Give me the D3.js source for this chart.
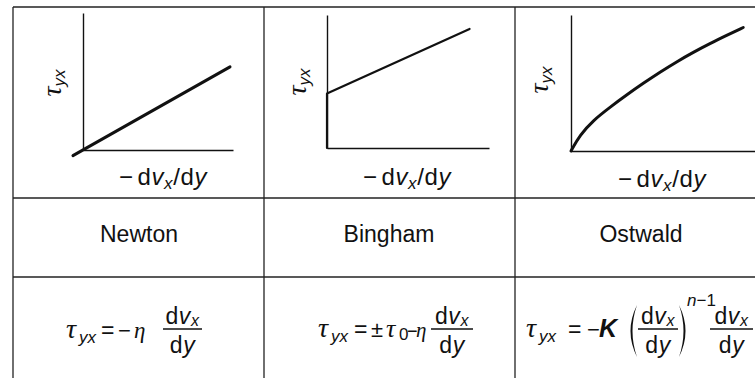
<!DOCTYPE html>
<html><head><meta charset="utf-8">
<script src="https://cdn.jsdelivr.net/npm/d3@7"></script>
<style>
html,body{margin:0;padding:0;background:#fff;}
svg{display:block;}
</style></head><body>
<svg id="chart" width="755" height="378"></svg>
<script>
// Flow models compared in the table
const models = ["Newton", "Bingham", "Ostwald"];

// Newtonian fluid: straight line through the origin
const newtonX = [-0.067, 0.98];
const newtonY = [-0.041, 0.607];

// Bingham plastic: yield stress at zero shear rate, then linear
const binghamX = [0, 0, 0.88];
const binghamY = [0, 0.41, 0.895];

// Ostwald (power-law) fluid: shear-thinning curve
const ostwaldX = [0, 0.049, 0.121, 0.212, 0.302, 0.393, 0.484, 0.574, 0.665, 0.755, 0.846, 0.936];
const ostwaldY = [0, 0.118, 0.226, 0.322, 0.412, 0.498, 0.58, 0.656, 0.726, 0.79, 0.85, 0.908];

// Normalised axis domain shared by the three sketches
const axisDomain = [0, 1];

const SANS = "'Liberation Sans', Arial, Helvetica, sans-serif";
const SERIF = "'Liberation Serif', 'Times New Roman', serif";
const INK = "#111";

const svg = d3.select("#chart");
const g = svg.append("g");

// ---- table rules ----
const cols = [13, 264, 515];
const rows = [7, 198, 277];
g.selectAll("line.col").data(cols).join("line")
  .attr("x1", d => d).attr("x2", d => d).attr("y1", 7).attr("y2", 378)
  .attr("stroke", "#222").attr("stroke-width", 1.3);
g.selectAll("line.row").data(rows).join("line")
  .attr("x1", 13).attr("x2", 755).attr("y1", d => d).attr("y2", d => d)
  .attr("stroke", "#222").attr("stroke-width", 1.3);

// ---- text helpers ----
function txt(parent, x, y, parts, opts = {}) {
  const t = parent.append("text").attr("x", x).attr("y", y)
    .attr("font-family", SANS).attr("fill", INK);
  if (opts.anchor) t.attr("text-anchor", opts.anchor);
  if (opts.transform) t.attr("transform", opts.transform);
  if (opts.spacing) t.attr("letter-spacing", opts.spacing);
  parts.forEach(p => {
    const s = t.append("tspan").text(p.t).attr("font-size", p.size || 22);
    if (p.it) s.attr("font-style", "italic");
    if (p.serif) s.attr("font-family", SERIF);
    if (p.bold) s.attr("font-weight", "bold");
    if (p.dy) s.attr("dy", p.dy);
    if (p.dx) s.attr("dx", p.dx);
  });
  return t;
}

function frac(parent, x0, x1, barY) {
  const cx = (x0 + x1) / 2;
  parent.append("line").attr("x1", x0).attr("x2", x1).attr("y1", barY).attr("y2", barY)
    .attr("stroke", INK).attr("stroke-width", 1.3);
  txt(parent, cx, barY - 5, [{t: "d", size: 23}, {t: "v", it: true, size: 23}, {t: "x", it: true, size: 16, dy: 2}],
    {anchor: "middle", spacing: 0.6});
  txt(parent, cx, barY + 24, [{t: "d", size: 23}, {t: "y", it: true, size: 23}], {anchor: "middle", spacing: 0.6});
}

// ---- sketches ----
const panels = [
  {xr: [83, 233], yr: [150, 13], xs: newtonX, ys: newtonY, w: 3, curve: d3.curveLinear, yLab: [61, 83], xLab: [163, 185]},
  {xr: [327, 489], yr: [148, 15], xs: binghamX, ys: binghamY, w: 2.2, curve: d3.curveLinear, yLab: [306, 82], xLab: [407, 185]},
  {xr: [571, 755], yr: [151, 15], xs: ostwaldX, ys: ostwaldY, w: 3, curve: d3.curveBasis, yLab: [548, 80], xLab: [662, 187]}
];

panels.forEach(p => {
  const x = d3.scaleLinear().domain(axisDomain).range(p.xr);
  const y = d3.scaleLinear().domain(axisDomain).range(p.yr);
  const pg = g.append("g");

  pg.append("g").attr("transform", `translate(0,${p.yr[0]})`)
    .call(d3.axisBottom(x).ticks(0).tickSizeOuter(0))
    .call(a => a.select(".domain").attr("stroke", INK).attr("stroke-width", 1.4));
  pg.append("g").attr("transform", `translate(${p.xr[0]},0)`)
    .call(d3.axisLeft(y).ticks(0).tickSizeOuter(0))
    .call(a => a.select(".domain").attr("stroke", INK).attr("stroke-width", 1.4));

  const pts = p.xs.map((v, i) => [v, p.ys[i]]);
  pg.append("path").datum(pts)
    .attr("d", d3.line().x(d => x(d[0])).y(d => y(d[1])).curve(p.curve))
    .attr("fill", "none").attr("stroke", INK).attr("stroke-width", p.w)
    .attr("stroke-linecap", "round").attr("stroke-linejoin", "round");

  txt(pg, 0, 0, [{t: "τ", serif: true, it: true, size: 28}, {t: "yx", it: true, size: 17, dy: 4}],
    {anchor: "middle", transform: `translate(${p.yLab[0]},${p.yLab[1]}) rotate(-90)`});

  txt(pg, p.xLab[0], p.xLab[1], [
    {t: "−", size: 24}, {t: "d", dx: 4, size: 24}, {t: "v", it: true, size: 24}, {t: "x", it: true, size: 17, dy: 4},
    {t: "/", dy: -4, size: 24}, {t: "d", size: 24}, {t: "y", it: true, size: 24}
  ], {anchor: "middle", spacing: 0.6});
});

// ---- model names ----
const centers = [139, 389, 641];
models.forEach((m, i) => txt(g, centers[i], 242, [{t: m, size: 23}], {anchor: "middle"}));

// ---- constitutive equations ----
function tauYX(x, base) {
  txt(g, x, base, [{t: "τ", serif: true, it: true, size: 28}]);
  txt(g, x + 13, base + 5, [{t: "yx", it: true, size: 17}]);
}

// Newton
tauYX(66, 338);
txt(g, 101, 338, [{t: "=", size: 23}]);
txt(g, 118, 338, [{t: "−", size: 22}]);
txt(g, 134, 338, [{t: "η", serif: true, it: true, size: 23}]);
frac(g, 163, 202, 329);

// Bingham
tauYX(318, 337);
txt(g, 354, 337, [{t: "=", size: 23}]);
txt(g, 371, 337, [{t: "±", size: 22}]);
txt(g, 386, 337, [{t: "τ", serif: true, it: true, size: 26}]);
txt(g, 399, 340, [{t: "0", size: 17}]);
txt(g, 407, 337, [{t: "−", size: 18}]);
txt(g, 416, 337, [{t: "η", serif: true, it: true, size: 21}]);
frac(g, 431, 473, 329);

// Ostwald
tauYX(526, 337);
txt(g, 568, 337, [{t: "=", size: 23}]);
txt(g, 587, 337, [{t: "−", size: 22}]);
txt(g, 599, 337, [{t: "K", it: true, bold: true, size: 25}]);
g.append("path").attr("d", "M637,305 Q624,331 637,357 Q628,331 637,305 Z").attr("fill", INK);
frac(g, 638, 678, 329);
g.append("path").attr("d", "M679,305 Q692,331 679,357 Q688,331 679,305 Z").attr("fill", INK);
txt(g, 687, 306, [{t: "n", it: true, size: 17}, {t: "−1", size: 17}]);
frac(g, 710, 753, 329);
</script>
</body></html>
